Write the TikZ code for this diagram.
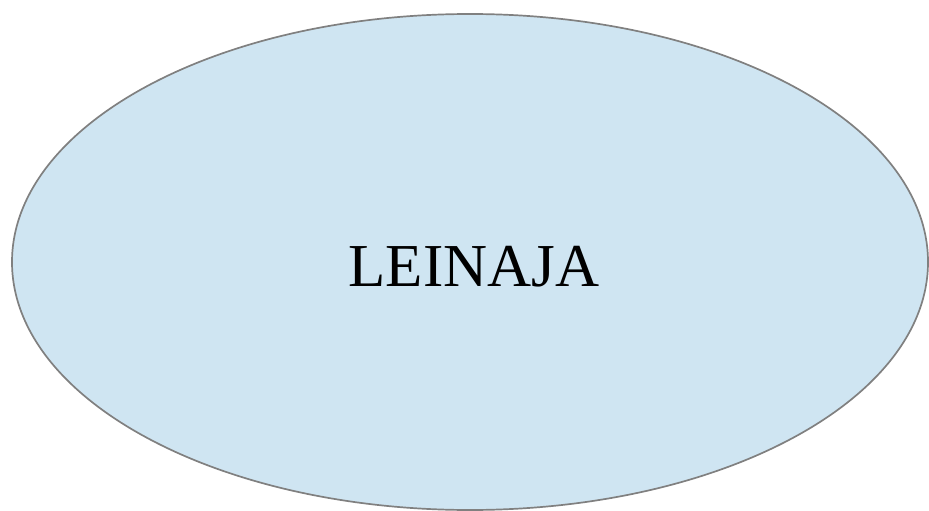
\documentclass[tikz,border=0pt]{standalone}
\usepackage{fontspec}
\setmainfont{Liberation Serif}
\definecolor{ellfill}{RGB}{207,229,242}
\definecolor{ellline}{RGB}{128,128,128}
\tikzset{blob/.style={draw=ellline,fill=ellfill,line width=1.7pt}}
\begin{document}
\begin{tikzpicture}[x=1pt,y=-1pt]
\useasboundingbox (0,0) rectangle (929,511);
\draw[blob] (470,262) ellipse [x radius=458, y radius=248];
\node[font=\fontsize{61}{68}\selectfont, inner sep=0pt, anchor=base] (lbl) at (474,286) {LEINAJA};
\end{tikzpicture}
\end{document}
